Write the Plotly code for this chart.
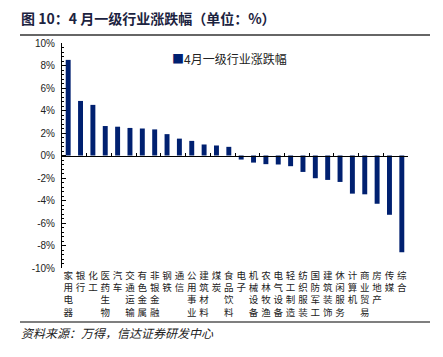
import plotly.graph_objects as go

industries = ["家用电器", "银行", "化工", "医药生物", "汽车", "交通运输", "有色金属", "非银金融",
              "钢铁", "通信", "公用事业", "建筑材料", "煤炭", "食品饮料", "电子", "机械设备",
              "农林牧渔", "电气设备", "轻工制造", "纺织服装", "国防军工", "建筑装饰", "休闲服务",
              "计算机", "商业贸易", "房地产", "传媒", "综合"]
changes = [8.5, 4.85, 4.5, 2.62, 2.56, 2.45, 2.4, 2.32, 1.9, 1.5, 1.3, 0.98, 0.89, 0.77,
           -0.36, -0.63, -0.77, -0.8, -0.95, -1.46, -2.02, -2.17, -2.35, -3.39, -3.45,
           -4.29, -5.27, -8.6]
y_ticks = [-10, -8, -6, -4, -2, 0, 2, 4, 6, 8, 10]
y_tick_labels = [f"{v}%" for v in y_ticks]
series_name = "4月一级行业涨跌幅"
title_text = "图 10：4 月一级行业涨跌幅（单位：%）"
source_text = "资料来源：万得，信达证券研发中心"

bar_color = "#002070"
ymin, ymax = y_ticks[0], y_ticks[-1]
vertical_labels = ["<br>".join(list(n)) for n in industries]

# page body has an 8px margin; lay out in window pixels and shift
OFF = 8
WIN_W, WIN_H = 443, 357
W, H = WIN_W - OFF, WIN_H - OFF
PL, PR, PT, PB = 62, 408, 43, 268  # plot area in window pixels
ML, MR, MT, MB = PL - OFF, W - (PR - OFF), PT - OFF, H - (PB - OFF)
PW, PH = W - ML - MR, H - MT - MB


def px(x):
    return (x - PL) / PW


def py(y):
    return (PB - y) / PH


fig = go.Figure()
fig.add_trace(go.Bar(x=industries, y=changes, marker=dict(color=bar_color, line=dict(width=0)),
                     name=series_name, showlegend=False, xaxis="x", yaxis="y"))
fig.add_trace(go.Scatter(x=industries, y=[0] * len(industries), mode="none", showlegend=False,
                         hoverinfo="skip", xaxis="x2", yaxis="y"))

cjk = "Noto Sans CJK SC"
fig.update_layout(
    width=W, height=H,
    margin=dict(l=ML, r=MR, t=MT, b=MB, autoexpand=False),
    paper_bgcolor="white", plot_bgcolor="white",
    bargap=0.6,
    xaxis=dict(type="category", tickvals=industries, ticktext=vertical_labels,
               showline=False, ticks="", showgrid=False, zeroline=False, automargin=False,
               tickfont=dict(family=cjk, size=9.5, color="#222")),
    xaxis2=dict(type="category", overlaying="x", matches="x", anchor="free", automargin=False,
                position=(0 - ymin) / (ymax - ymin), showline=True, linecolor="black",
                linewidth=1, ticks="inside", ticklen=3, tickcolor="black", tickson="boundaries",
                showticklabels=False, showgrid=False, zeroline=False),
    yaxis=dict(range=[ymin, ymax], tickvals=y_ticks, ticktext=y_tick_labels, automargin=False,
               showline=True, linecolor="black", linewidth=1, ticks="inside", ticklen=4,
               tickcolor="black", showgrid=False, zeroline=False,
               minor=dict(dtick=0.4, ticks="inside", ticklen=2, tickcolor="black"),
               tickfont=dict(family="Liberation Sans, Arial", size=10, color="#222"),
               ticklabelstandoff=4),
)

fig.add_annotation(xref="paper", yref="paper", x=px(170), y=py(58),
                   xanchor="left", yanchor="middle", showarrow=False,
                   text=f"<span style='color:{bar_color}'>■</span>{series_name}",
                   font=dict(family=cjk, size=12, color="#222"))
fig.add_annotation(xref="paper", yref="paper", x=px(19), y=py(18),
                   xanchor="left", yanchor="middle", showarrow=False, text=f"<b>{title_text}</b>",
                   font=dict(family=cjk, size=14, color="#1c2340"))
fig.add_annotation(xref="paper", yref="paper", x=px(19), y=py(333),
                   xanchor="left", yanchor="middle", showarrow=False, text=f"<i>{source_text}</i>",
                   font=dict(family=cjk, size=12, color="#222"))
fig.add_shape(type="line", xref="paper", yref="paper", x0=px(20), x1=px(430),
              y0=py(35), y1=py(35), line=dict(color="#333", width=1.5))
fig.add_shape(type="line", xref="paper", yref="paper", x0=px(20), x1=px(430),
              y0=py(322), y1=py(322), line=dict(color="#555", width=1.5))

fig.write_html("out.html")
